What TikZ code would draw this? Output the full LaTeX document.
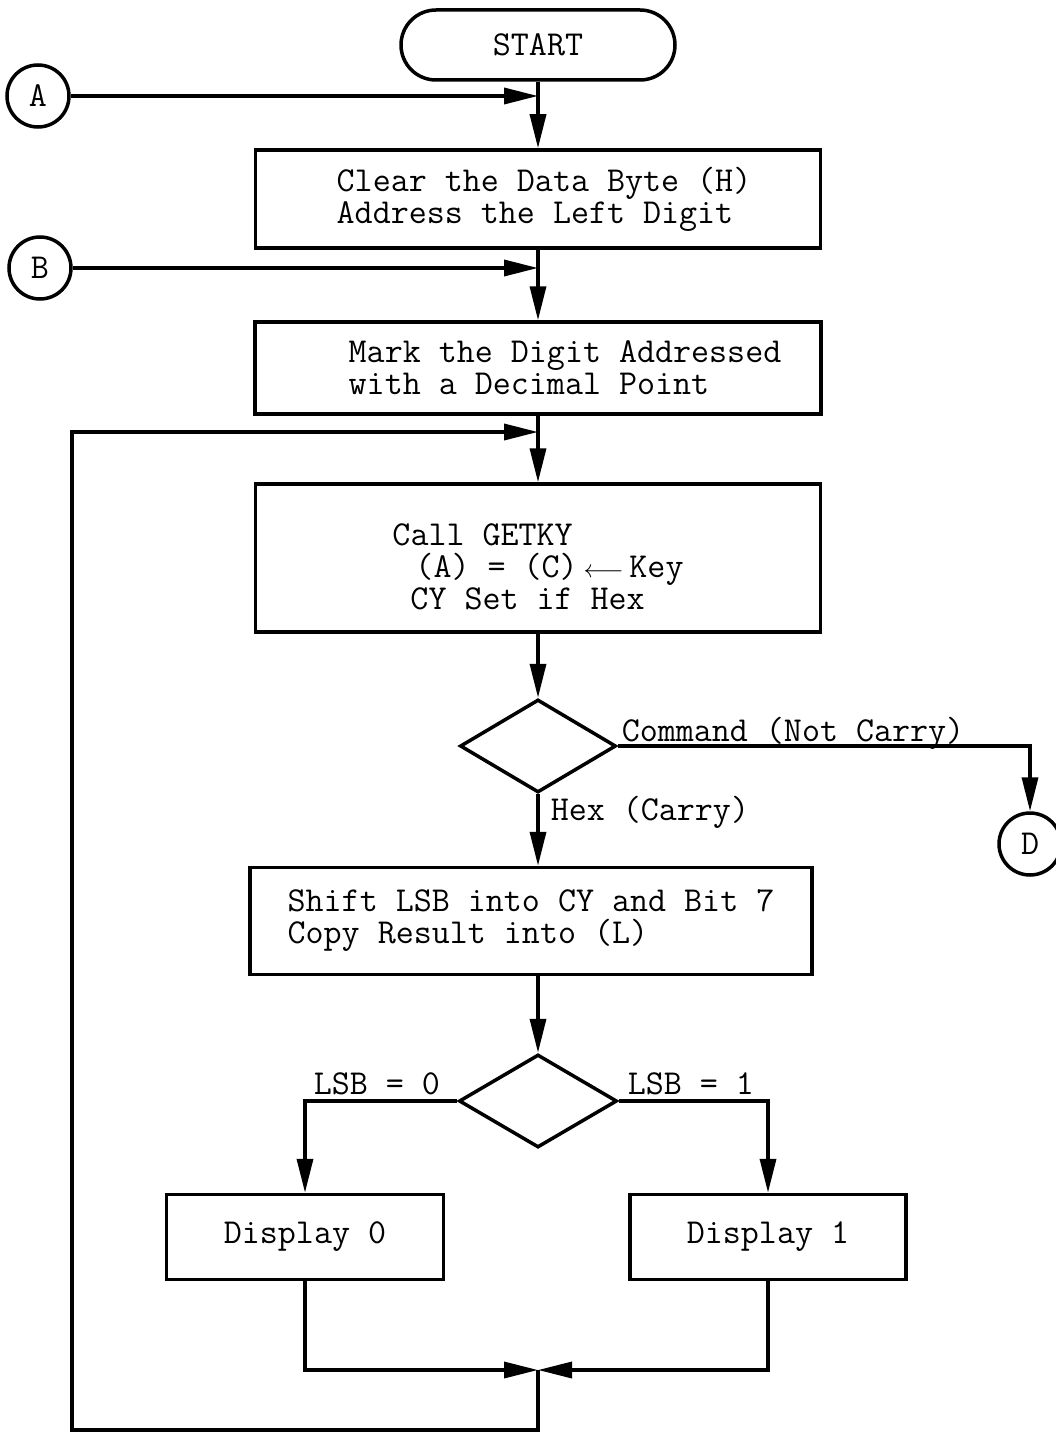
\documentclass[tikz,border=0pt]{standalone}
\usepackage{fontspec}
\usetikzlibrary{arrows.meta, shapes.geometric}
\newcommand\flowfont{\ttfamily\fontsize{35}{32}\selectfont}

\begin{document}
\begin{tikzpicture}[x=1pt, y=-1pt, line width=3.5pt,
      every node/.style={font=\flowfont},
      box/.style={draw, rectangle, inner sep=0pt, align=left},
      term/.style={draw, rectangle, rounded corners=35pt, inner sep=0pt},
      dec/.style={draw, diamond, inner sep=0pt, minimum width=156pt, minimum height=93pt},
      con/.style={draw, circle, inner sep=0pt, minimum size=62pt},
      conn/.style={-{Triangle[length=34pt,width=16pt]}}]
    \useasboundingbox (0,0) rectangle (1056,1434);
    % main column
    \node[term, minimum width=274pt, minimum height=70pt] (start) at (538,45) {START};
    \node[box, minimum width=565pt, minimum height=98pt] (clr) at (538,199)
      {\hspace*{12pt}Clear the Data Byte (H)\\\hspace*{12pt}Address the Left Digit};
    \node[box, minimum width=566pt, minimum height=92pt] (mark) at (538,368)
      {\hspace*{54pt}Mark the Digit Addressed\\\hspace*{54pt}with a Decimal Point};
    \node[box, minimum width=565pt, minimum height=148pt] (getky) at (538,558)
      {\rule{0pt}{40pt}Call GETKY\\\hspace*{23pt}(A) = (C)\,$\longleftarrow$\,Key\\\hspace*{18pt}CY Set if Hex};
    \node[dec] (dec1) at (538,746) {};
    \node[box, minimum width=562pt, minimum height=107pt] (shift) at (531,921)
      {Shift LSB into CY and Bit 7\\Copy Result into (L)};
    \node[dec, minimum width=158pt] (dec2) at (538,1101) {};
    \node[box, minimum width=277pt, minimum height=85pt] (disp0) at (305,1237) {Display 0};
    \node[box, minimum width=276pt, minimum height=85pt] (disp1) at (768,1237) {Display 1};
    % connectors in and out
    \node[con] (A) at (38,96) {A};
    \node[con] (B) at (40,268) {B};
    \node[con] (D) at (1030,844) {D};
    % branch labels
    \node[anchor=base west, inner sep=0pt] (lcmd) at (620,741) {Command (Not Carry)};
    \node[anchor=west, inner sep=0pt] (lhex) at (549,812) {Hex (Carry)};
    \node[anchor=base west, inner sep=0pt] (lzero) at (312,1094) {LSB = 0};
    \node[anchor=base west, inner sep=0pt] (lone) at (626,1094) {LSB = 1};
    % junctions
    \coordinate (jnA) at (538,96);
    \coordinate (jnB) at (538,268);
    \coordinate (jnL) at (538,432);
    \coordinate (mrg) at (538,1370);
    \coordinate (lpb) at (538,1430);
    \coordinate (lpl) at (72,1430);
    \coordinate (lpt) at (72,432);

    \draw[conn] (start) -- (clr);
    \draw[conn] (A) -- (jnA);
    \draw[conn] (clr) -- (mark);
    \draw[conn] (B) -- (jnB);
    \draw[conn] (mark) -- (getky);
    \draw[conn] (mrg) -- (lpb) -- (lpl) -- (lpt) -- (jnL);
    \draw[conn] (getky) -- (dec1);
    \draw[conn] (dec1.east) -| (D.north);
    \draw[conn] (dec1.south) -- (dec1.south |- shift.north);
    \draw[conn] (dec1.south |- shift.south) -- (dec2.north);
    \draw[conn] (dec2.west) -| (disp0.north);
    \draw[conn] (dec2.east) -| (disp1.north);
    \draw[conn] (disp0.south) |- (mrg);
    \draw[conn] (disp1.south) |- (mrg);
  \end{tikzpicture}
\end{document}
